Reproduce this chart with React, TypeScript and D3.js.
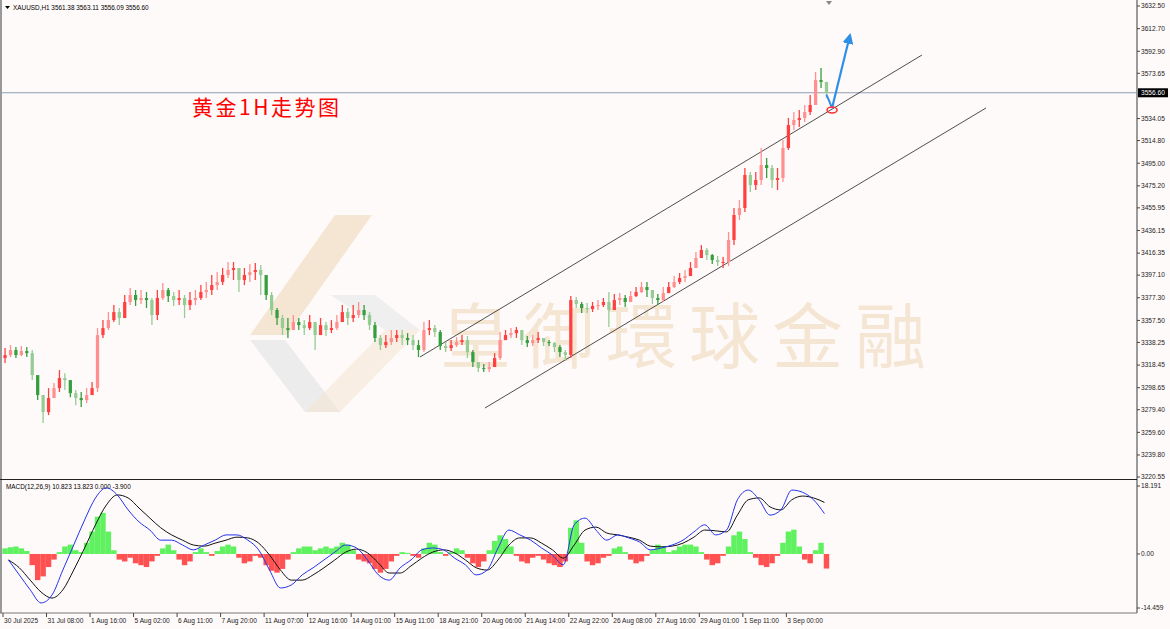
import React from "react";
import * as d3 from "d3";

const W = 1170;
const H = 629;

const headerText = "XAUUSD,H1  3561.38 3563.11 3556.09 3556.60";
const macdLabel = "MACD(12,26,9) 10.823 13.823 0.000 -3.900";
const titleText = "黄金1H走势图";
const watermarkText = "皇御環球金融";
const lastPrice = 3556.6;

const priceTicks = [3632.5, 3612.7, 3592.9, 3573.65, 3534.05, 3514.8, 3495.0, 3475.2, 3455.95, 3436.15, 3416.35, 3397.1, 3377.3, 3357.5, 3338.25, 3318.45, 3298.65, 3279.4, 3259.6, 3239.8, 3220.55];
const macdTicks = [18.191, 0.0, -14.459];
const macdTickLabels = ["18.191", "0.00", "-14.459"];

const timeLabels = ["30 Jul 2025", "31 Jul 08:00", "1 Aug 16:00", "5 Aug 02:00", "6 Aug 11:00", "7 Aug 20:00", "11 Aug 07:00", "12 Aug 16:00", "14 Aug 01:00", "15 Aug 11:00", "18 Aug 21:00", "20 Aug 06:00", "21 Aug 14:00", "22 Aug 22:00", "26 Aug 08:00", "27 Aug 16:00", "29 Aug 01:00", "1 Sep 11:00", "3 Sep 00:00"];
const timeLabelStepHours = 32;

// 4-hour candles (open of first, then closes/highs/lows)
const firstOpen = 3324.6;
const closes = [3327.2, 3331.6, 3327.2, 3330.7, 3328.9, 3309.7, 3292.2, 3277.3, 3289.6, 3298.3, 3307.1, 3305.3, 3293.9, 3289.6, 3287.8, 3292.2, 3298.3, 3344.7, 3350.8, 3357.8, 3364.8, 3359.6, 3373.6, 3379.7, 3375.3, 3377.1, 3375.3, 3362.2, 3377.1, 3384.1, 3378.8, 3375.3, 3377.1, 3370.9, 3375.3, 3377.1, 3382.3, 3384.1, 3388.4, 3391.1, 3397.2, 3401.6, 3403.3, 3392.8, 3397.2, 3399.8, 3401.6, 3397.2, 3379.7, 3366.6, 3359.6, 3350.8, 3349.1, 3356.1, 3353.4, 3350.8, 3356.1, 3344.7, 3353.4, 3349.1, 3350.8, 3356.1, 3364.8, 3359.6, 3362.2, 3366.6, 3362.2, 3353.4, 3342.1, 3335.9, 3338.6, 3342.1, 3344.7, 3342.1, 3340.3, 3335.9, 3331.6, 3349.1, 3350.8, 3347.3, 3335.1, 3333.3, 3335.9, 3338.6, 3340.3, 3329.8, 3321.1, 3315.8, 3314.9, 3316.7, 3324.6, 3340.3, 3344.7, 3346.4, 3349.1, 3340.3, 3337.7, 3340.3, 3342.1, 3338.6, 3337.7, 3334.2, 3329.8, 3327.2, 3375.3, 3371.8, 3368.3, 3367.4, 3370.1, 3370.9, 3373.6, 3366.6, 3375.3, 3377.1, 3373.6, 3378.8, 3382.3, 3386.7, 3384.1, 3377.1, 3375.3, 3381.4, 3386.7, 3391.1, 3394.6, 3396.3, 3403.3, 3412.1, 3419.1, 3414.7, 3410.3, 3408.6, 3408.6, 3427.8, 3449.7, 3455.8, 3484.7, 3475.9, 3480.3, 3493.4, 3490.8, 3480.3, 3482.0, 3508.3, 3528.4, 3532.8, 3534.6, 3539.8, 3545.9, 3567.8, 3566.1, 3556.6];
const highs = [3333.3, 3335.9, 3334.2, 3335.1, 3334.2, 3331.6, 3307.9, 3292.2, 3298.3, 3302.7, 3314.1, 3311.4, 3305.3, 3296.6, 3294.8, 3298.3, 3303.6, 3350.8, 3357.8, 3364.8, 3370.9, 3368.3, 3379.7, 3385.8, 3384.1, 3384.1, 3382.3, 3377.1, 3384.1, 3390.2, 3385.8, 3382.3, 3384.1, 3379.7, 3382.3, 3384.1, 3388.4, 3391.1, 3397.2, 3399.8, 3403.3, 3408.6, 3408.6, 3403.3, 3403.3, 3406.8, 3407.7, 3406.0, 3392.8, 3382.3, 3368.3, 3362.2, 3359.6, 3362.2, 3359.6, 3357.8, 3362.2, 3356.1, 3359.6, 3356.1, 3357.8, 3362.2, 3370.9, 3368.3, 3370.9, 3373.6, 3370.9, 3364.8, 3356.1, 3344.7, 3344.7, 3349.1, 3349.1, 3349.1, 3346.4, 3344.7, 3340.3, 3356.1, 3357.8, 3353.4, 3349.1, 3338.6, 3340.3, 3342.9, 3344.7, 3343.8, 3331.6, 3321.1, 3319.3, 3321.1, 3328.9, 3347.3, 3349.1, 3350.8, 3351.7, 3347.3, 3343.8, 3344.7, 3347.3, 3342.1, 3340.3, 3338.6, 3335.9, 3331.6, 3378.8, 3377.9, 3373.6, 3372.7, 3373.6, 3375.3, 3377.1, 3382.3, 3380.6, 3381.4, 3379.7, 3383.2, 3386.7, 3391.1, 3391.1, 3384.1, 3380.6, 3386.7, 3391.1, 3396.3, 3399.0, 3401.6, 3408.6, 3417.3, 3423.4, 3420.8, 3415.6, 3413.8, 3413.0, 3434.8, 3455.8, 3462.8, 3490.8, 3487.3, 3487.3, 3508.3, 3499.6, 3493.4, 3490.8, 3515.3, 3534.6, 3539.8, 3541.6, 3545.9, 3554.7, 3574.8, 3578.3, 3566.1];
const lows = [3320.2, 3325.4, 3324.6, 3326.3, 3325.4, 3305.3, 3287.8, 3267.7, 3274.7, 3292.2, 3294.8, 3296.6, 3290.4, 3283.4, 3281.7, 3285.2, 3292.2, 3294.8, 3342.1, 3349.1, 3356.1, 3353.4, 3359.6, 3370.9, 3370.1, 3371.8, 3368.3, 3353.4, 3357.8, 3375.3, 3373.6, 3370.1, 3370.9, 3359.6, 3366.6, 3370.9, 3375.3, 3377.1, 3379.7, 3384.1, 3388.4, 3394.6, 3392.8, 3382.3, 3388.4, 3391.1, 3392.8, 3379.7, 3375.3, 3362.2, 3353.4, 3344.7, 3342.1, 3349.1, 3349.1, 3344.7, 3349.1, 3331.6, 3344.7, 3343.8, 3346.4, 3349.1, 3356.1, 3353.4, 3356.1, 3359.6, 3357.8, 3349.1, 3338.6, 3331.6, 3333.3, 3335.9, 3338.6, 3335.9, 3335.9, 3331.6, 3325.4, 3329.8, 3344.7, 3342.9, 3331.6, 3329.8, 3330.7, 3334.2, 3335.9, 3324.6, 3316.7, 3312.3, 3312.3, 3312.3, 3318.4, 3322.8, 3340.3, 3342.1, 3342.1, 3335.9, 3334.2, 3335.1, 3337.7, 3335.1, 3335.1, 3329.8, 3325.4, 3322.8, 3324.6, 3368.3, 3363.9, 3363.9, 3364.8, 3366.6, 3369.2, 3351.7, 3370.1, 3370.9, 3369.2, 3373.6, 3377.9, 3381.4, 3377.9, 3371.8, 3370.9, 3373.6, 3381.4, 3385.8, 3389.3, 3391.1, 3397.2, 3405.1, 3412.1, 3410.3, 3406.8, 3405.1, 3403.3, 3405.1, 3423.4, 3445.3, 3452.3, 3469.8, 3471.5, 3475.9, 3482.0, 3473.3, 3471.5, 3478.5, 3506.6, 3524.1, 3526.7, 3531.1, 3537.2, 3550.3, 3560.8, 3552.1];

// MACD lines (8-hour sampling) and histogram (4-hour)
const macdMain = [-1.6, -5.6, -9.6, -13.1, -11.0, -4.3, 2.4, 9.1, 15.0, 17.7, 15.8, 11.8, 8.6, 6.4, 3.7, 3.7, 2.4, 1.1, 2.4, 3.7, 5.1, 5.1, 3.7, 1.1, -4.3, -9.1, -8.3, -5.6, -3.7, -1.6, 0.5, 2.4, 1.6, -1.6, -5.6, -7.0, -3.7, -1.6, 1.1, 1.6, 1.1, -1.1, -2.9, -5.6, -4.3, 1.6, 6.4, 5.1, 3.7, 1.6, -0.3, -2.9, 7.8, 9.6, 6.4, 3.7, 5.1, 4.3, 3.2, 1.1, 1.6, 2.4, 3.7, 5.9, 7.8, 5.1, 6.4, 14.5, 17.1, 14.5, 10.4, 11.8, 17.1, 16.5, 14.5, 10.8];
const macdSignal = [-1.6, -3.7, -7.0, -10.2, -11.8, -9.6, -4.3, 1.6, 7.8, 13.1, 15.8, 15.0, 12.3, 9.6, 7.0, 5.1, 3.7, 2.4, 2.1, 2.9, 3.7, 4.5, 4.3, 2.9, -0.3, -4.3, -7.0, -7.0, -5.6, -3.7, -1.6, 0.5, 1.3, 0.3, -2.4, -5.1, -5.1, -3.2, -1.1, 0.5, 1.1, 0.3, -1.6, -3.7, -4.3, -1.6, 2.4, 4.3, 4.3, 2.9, 1.1, -1.1, 2.4, 6.4, 7.2, 5.6, 5.1, 4.5, 3.7, 2.1, 1.9, 2.1, 2.9, 4.5, 6.4, 6.2, 5.9, 10.4, 14.5, 15.0, 12.6, 11.8, 14.5, 15.5, 15.0, 13.8];
const macdHist = [1.5, 1.8, 2.0, 1.5, 0.8, -3, -7, -6, -3.5, -1.5, 0.5, 2, 2.5, 1, 0.5, 3, 6, 10, 11, 6, 1, -1.5, -2, -1, -2.5, -3, -3.5, -2, -0.5, 1.5, 2.5, 1, -1.5, -3, -2, 0.5, 1.5, 0.5, -0.5, 0.8, 2, 2.5, 2, -1, -2.5, -2, -0.5, -1, -3, -4.5, -5, -4, -1.5, 0.5, 1.5, 2, 2, 1, 1.5, 2, 1.5, 2, 3, 2.5, 1, -1.5, -2, -2.5, -4, -5, -4, -2, -0.5, 0.5, 0.3, -0.5, -1, 1.5, 3, 2.5, 0.5, -0.5, 0.5, 1.5, 1, -1, -2.5, -3.5, -2, 1, 3.5, 5, 4, 2, -0.5, -2, -2.5, -1, -0.5, -1.5, -2.5, -3, -3.5, -2, 7, 9, 3, -2, -3, -2.5, -1, -0.5, 1.5, 2, 0.5, -1.5, -2.5, -2, -0.5, 1, 2.5, 2, 0.5, 1, 2, 2.5, 2.5, 2, 0.5, -1.5, -3, -2.5, -0.5, 2, 5, 6, 4, 0.5, -1, -3, -3.5, -2.5, -0.5, 3, 6, 6.5, 2, -1.5, -2.5, 1, 3, -3.9];

// channel lines: [hourIndex, price]
const upperChannel = [[306.6, 3325.5], [675.7, 3589.6]];
const lowerChannel = [[354.4, 3280.9], [722.8, 3543.3]];
// forecast arrow path: [hourIndex, price]
const forecastPath = [[605.5, 3555.0], [609.6, 3543.3], [622.8, 3607.1]];
const touchPoint = [609.6, 3541.5];

const totalHours = 608;

export default function App() {
  const plotRight = 1137;
  const x = d3.scaleLinear().domain([0, totalHours]).range([3, 3 + totalHours * 1.36]);
  const y = d3.scaleLinear().domain([3220.55, 3632.5]).range([477, 6]);
  const ym = d3.scaleLinear().domain([-14.459, 18.191]).range([608, 486]);
  const barW = x(4) - x(0);

  const candles = closes.map((c, i) => {
    const o = i === 0 ? firstOpen : closes[i - 1];
    return { o, c, h: highs[i], l: lows[i], t: 4 * i + 1.5 };
  });

  const line = d3.line<number>().x((d, j) => x(8 * j + 4)).y((d) => ym(d)).curve(d3.curveMonotoneX);
  const chLine = d3.line<number[]>().x((d) => x(d[0])).y((d) => y(d[1]));

  const font = "'Liberation Sans', Arial, sans-serif";
  const bg = "#fffafa";

  const wmBeige = "#f5e6d3";
  const wmGrey = "#ececec";

  return (
    <svg width={W} height={H} style={{ position: "absolute", left: 0, top: 0, background: bg, display: "block" }}>
      <rect x={0} y={0} width={W} height={H} fill={bg} />
      {/* watermark logo */}
      <g>
        <polygon points="250,340 285,340 340,412 305,412" fill={wmGrey} />
        <polygon points="335,215 372,215 287,335 250,335" fill={wmBeige} />
        <polygon points="305,412 340,412 420,330 385,330" fill={wmBeige} opacity={0.6} />
        <polygon points="330,295 375,295 420,330 385,330" fill={wmGrey} opacity={0.8} />
        <text x={440} y={362} fontFamily="'Noto Sans CJK TC', 'Noto Sans CJK SC', sans-serif" fontSize={71} fill={wmBeige} letterSpacing={12}>
          {watermarkText}
        </text>
      </g>

      {/* frame */}
      <line x1={1} y1={0} x2={1} y2={613} stroke="#999" strokeWidth={2} />
      <line x1={plotRight} y1={0} x2={plotRight} y2={613} stroke="#9a9a9a" strokeWidth={2} />
      <line x1={0} y1={479.5} x2={plotRight} y2={479.5} stroke="#222" strokeWidth={1} />
      <line x1={0} y1={613} x2={plotRight} y2={613} stroke="#777" strokeWidth={1} />

      {/* header */}
      <path d="M5,6 L10,6 L7.5,9 Z" fill="#000" />
      <text x={13} y={10} fontFamily={font} fontSize={6.4} fill="#000">{headerText}</text>
      <path d="M826,1 L832,1 L829,5 Z" fill="#888" />

      {/* current price line */}
      <line x1={0} y1={y(lastPrice)} x2={plotRight} y2={y(lastPrice)} stroke="#8d9db0" strokeWidth={1} />

      {/* channels */}
      <path d={chLine(upperChannel) || ""} stroke="#222" strokeWidth={0.8} fill="none" />
      <path d={chLine(lowerChannel) || ""} stroke="#222" strokeWidth={0.8} fill="none" />

      {/* candles */}
      {candles.map((d, i) => {
        const up = d.c >= d.o;
        const tone = i % 2 === 0;
        const col = up ? (tone ? "#ff4040" : "#ff9090") : tone ? "#359f3f" : "#94cc94";
        const cx = x(d.t);
        const top = y(Math.max(d.o, d.c));
        const bot = y(Math.min(d.o, d.c));
        return (
          <g key={i}>
            <line x1={cx} x2={cx} y1={y(d.h)} y2={y(d.l)} stroke={col} strokeWidth={1.3} />
            <rect x={cx - barW * 0.3} y={top} width={barW * 0.6} height={Math.max(1, bot - top)} fill={col} />
          </g>
        );
      })}

      {/* forecast arrow */}
      <defs>
        <marker id="ah" viewBox="0 0 10 10" refX={8} refY={5} markerWidth={5} markerHeight={5} orient="auto">
          <path d="M0,0 L10,5 L0,10 Z" fill="#2e8ee8" />
        </marker>
      </defs>
      <path
        d={d3.line<number[]>().x((d) => x(d[0])).y((d) => y(d[1]))(forecastPath.slice(0, 2)) || ""}
        stroke="#2e8ee8"
        strokeWidth={2}
        fill="none"
      />
      <path
        d={d3.line<number[]>().x((d) => x(d[0])).y((d) => y(d[1]))(forecastPath.slice(1)) || ""}
        stroke="#2e8ee8"
        strokeWidth={2.2}
        fill="none"
        markerEnd="url(#ah)"
      />
      <ellipse cx={x(touchPoint[0])} cy={y(touchPoint[1])} rx={5} ry={3} fill="none" stroke="#ff3030" strokeWidth={1.6} />

      {/* title */}
      <text x={192} y={115} fontFamily="'Noto Sans CJK SC', sans-serif" fontSize={21} fill="#ff0000" letterSpacing={2.5}>
        {titleText}
      </text>

      {/* price axis */}
      {priceTicks.map((p, i) => (
        <g key={i}>
          <line x1={plotRight} x2={plotRight + 3} y1={y(p)} y2={y(p)} stroke="#444" />
          <text x={1141} y={y(p)} dy="0.35em" fontFamily={font} fontSize={6.6} fill="#222">
            {p.toFixed(2)}
          </text>
        </g>
      ))}
      <rect x={1138} y={y(lastPrice) - 4.5} width={30} height={9} fill="#000" />
      <text x={1141} y={y(lastPrice)} dy="0.35em" fontFamily={font} fontSize={6.6} fill="#fff">
        {lastPrice.toFixed(2)}
      </text>

      {/* MACD panel */}
      <text x={6} y={489} fontFamily={font} fontSize={6.4} fill="#000">{macdLabel}</text>
      {macdHist.map((v, i) => {
        const cx = x(4 * i + 1.5);
        const y0 = ym(0);
        const y1 = ym(v);
        return (
          <rect
            key={i}
            x={cx - barW / 2}
            y={Math.min(y0, y1)}
            width={barW}
            height={Math.abs(y1 - y0)}
            fill={v >= 0 ? "#44ee44" : "#ff3333"}
            opacity={0.85}
          />
        );
      })}
      <path d={line(macdSignal) || ""} stroke="#111" strokeWidth={1} fill="none" />
      <path d={line(macdMain) || ""} stroke="#2233ee" strokeWidth={1} fill="none" />
      {macdTicks.map((v, i) => (
        <g key={i}>
          <line x1={plotRight} x2={plotRight + 3} y1={ym(v)} y2={ym(v)} stroke="#444" />
          <text x={1141} y={ym(v)} dy="0.35em" fontFamily={font} fontSize={6.6} fill="#222">
            {macdTickLabels[i]}
          </text>
        </g>
      ))}

      {/* time axis */}
      {timeLabels.map((t, k) => {
        const tx = x(k * timeLabelStepHours);
        return (
          <g key={k}>
            <line x1={tx} x2={tx} y1={613} y2={617} stroke="#444" />
            <text x={tx + 1} y={623} fontFamily={font} fontSize={6.6} fill="#222">
              {t}
            </text>
          </g>
        );
      })}
    </svg>
  );
}
